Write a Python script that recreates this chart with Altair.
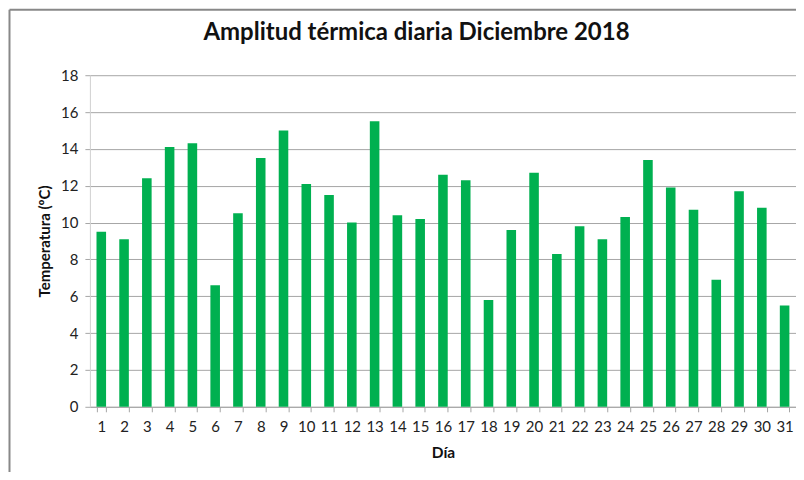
import altair as alt
import pandas as pd

dias = [str(d) for d in range(1, 32)]
amplitud = [9.5, 9.1, 12.4, 14.1, 14.3, 6.6, 10.5, 13.5, 15.0, 12.1,
            11.5, 10.0, 15.5, 10.4, 10.2, 12.6, 12.3, 5.8, 9.6, 12.7,
            8.3, 9.8, 9.1, 10.3, 13.4, 11.9, 10.7, 6.9, 11.7, 10.8, 5.5]
titulo = "Amplitud térmica diaria Diciembre 2018"

df = pd.DataFrame({"Día": dias, "Temperatura": amplitud})

FONT = "Lato"
GRID = "#a6a6a6"

bars = alt.Chart(df).mark_bar(color="#00B050").encode(
    x=alt.X("Día:N", sort=dias,
            scale=alt.Scale(paddingInner=0.58, paddingOuter=0.29),
            axis=alt.Axis(title="Día", labelAngle=0, tickBand="extent",
                          domainColor=GRID, tickColor=GRID, tickSize=5,
                          labelFont=FONT, labelFontSize=15, labelColor="#222222",
                          labelPadding=8,
                          titleFont=FONT, titleFontSize=15.5, titleFontWeight="bold",
                          titleColor="#111111", titlePadding=11)),
    y=alt.Y("Temperatura:Q",
            scale=alt.Scale(domain=[0, 18], nice=False),
            axis=alt.Axis(title="Temperatura (ºC)", values=list(range(0, 19, 2)),
                          grid=True, gridColor=GRID, domainColor="#d0d0d0",
                          tickColor=GRID, tickSize=5,
                          labelFont=FONT, labelFontSize=15, labelColor="#222222",
                          labelPadding=7,
                          titleFont=FONT, titleFontSize=15, titleFontWeight="bold",
                          titleColor="#111111", titlePadding=8)),
)

one = alt.Data(values=[{"t": titulo}])
border_top = alt.Chart(one).mark_rule(color="#888888", strokeWidth=2).encode(
    x=alt.value(-80.5), x2=alt.value(800), y=alt.value(-65.5))
border_left = alt.Chart(one).mark_rule(color="#888888", strokeWidth=2).encode(
    x=alt.value(-80.5), y=alt.value(-65.5), y2=alt.value(500))
title = alt.Chart(one).mark_text(
    font=FONT, fontSize=24, fontWeight="bold", color="#111111",
    align="center", baseline="alphabetic").encode(
    text="t:N", x=alt.value(327), y=alt.value(-35))

chart = alt.layer(border_top, border_left, title, bars).properties(
    width=707, height=332,
    autosize=alt.AutoSizeParams(type="none"),
    padding={"left": 82, "top": 67, "right": 0, "bottom": 65},
).configure_view(stroke=None)

chart.save("out.html", embed_options={"renderer": "svg", "actions": False})
